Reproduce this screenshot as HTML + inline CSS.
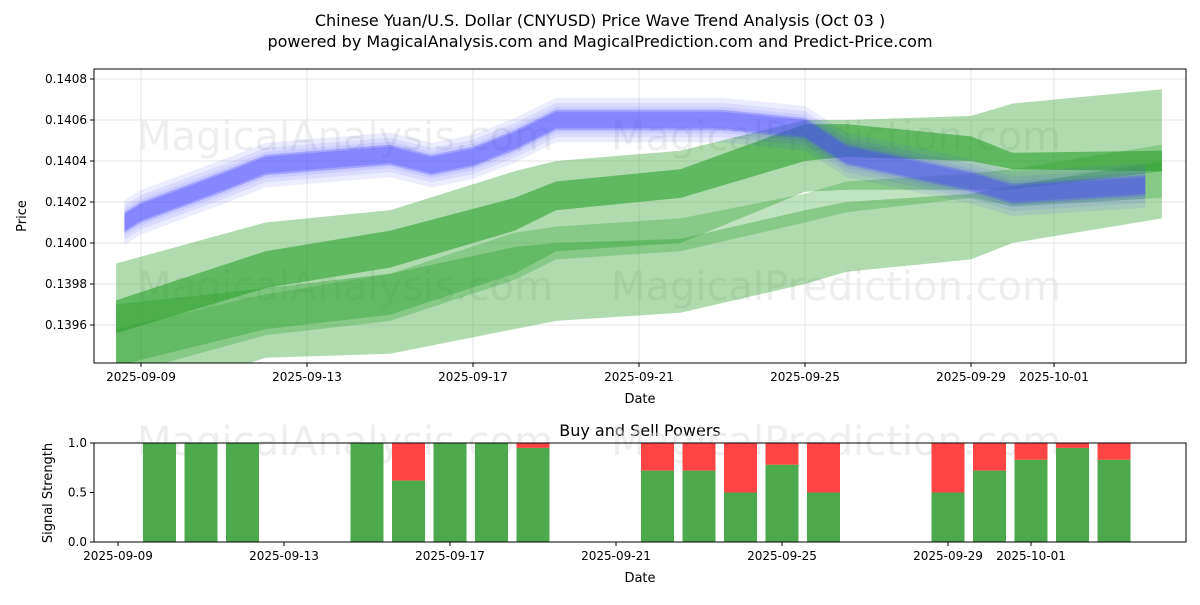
<!DOCTYPE html>
<html><head><meta charset="utf-8"><style>
body{margin:0;background:#fff;font-family:"Liberation Sans","DejaVu Sans",sans-serif}
svg text{font-family:"DejaVu Sans","Liberation Sans",sans-serif}
</style></head><body>
<svg id="c" width="1200" height="600" xmlns="http://www.w3.org/2000/svg">
<text x="600" y="26" text-anchor="middle" font-size="16">Chinese Yuan/U.S. Dollar (CNYUSD) Price Wave Trend Analysis (Oct 03 )</text>
<text x="600" y="47" text-anchor="middle" font-size="16">powered by MagicalAnalysis.com and MagicalPrediction.com and Predict-Price.com</text>
<g id="topg"></g><g id="botg"></g>
</svg>
<script>
// ---- data ----
const dayLabels=["2025-09-09","2025-09-13","2025-09-17","2025-09-21","2025-09-25","2025-09-29","2025-10-01"];
const dayIdx=[0,4,8,12,16,20,22];
const priceTicks=[0.1396,0.1398,0.1400,0.1402,0.1404,0.1406,0.1408];
const blueDays=[-0.4,0,2,3,6,7,8,9,10,13,14,16,17,20,21,24.2];
const blueMid=[0.14010,0.14015,0.14030,0.14038,0.14043,0.14038,0.14042,0.14050,0.14060,0.14060,0.14060,0.14056,0.14043,0.14030,0.14024,0.14028];
const greenDays=[-0.6,3,6,9,10,13,16,17,20,21,24.6];
const g1Lo=[0.13956,0.13978,0.13988,0.14006,0.14016,0.14022,0.14040,0.14042,0.14040,0.14036,0.14035];
const g1Hi=[0.13972,0.13996,0.14006,0.14022,0.14030,0.14036,0.14058,0.14058,0.14052,0.14044,0.14045];
const g2Lo=[0.13940,0.13958,0.13965,0.13985,0.13996,0.14000,0.14025,0.14026,0.14026,0.14026,0.14035];
const g2Hi=[0.13990,0.14010,0.14016,0.14035,0.14040,0.14045,0.14060,0.14060,0.14062,0.14068,0.14075];
const g3Lo=[0.13920,0.13944,0.13946,0.13958,0.13962,0.13966,0.13980,0.13986,0.13992,0.14000,0.14012];
const g3Hi=[0.13970,0.13978,0.13985,0.13998,0.14000,0.14002,0.14016,0.14020,0.14024,0.14028,0.14040];
const g4Lo=[0.13935,0.13955,0.13962,0.13982,0.13992,0.13996,0.14010,0.14015,0.14022,0.14018,0.14022];
const g4Hi=[0.13958,0.13975,0.13985,0.14005,0.14008,0.14012,0.14024,0.14030,0.14034,0.14036,0.14048];
const barDays=[1,2,3,6,7,8,9,10,13,14,15,16,17,20,21,22,23,24];
const buyVals=[1,1,1,1,0.62,1,1,0.95,0.72,0.72,0.5,0.78,0.5,0.5,0.72,0.83,0.95,0.83];
const sigTicks=[0,0.5,1.0];
// ---- scales ----
const NS="http://www.w3.org/2000/svg";
const T={l:94,r:1186,t:69,b:363},B={l:94,r:1186,t:443,b:542};
const xT=d=>141+d*41.5, xB=d=>118+d*41.5;
const yT=v=>325-(v-0.1396)/0.0002*41;
const yB=v=>542-v*99;
function el(p,tag,a){const e=document.createElementNS(NS,tag);for(const k in a)e.setAttribute(k,a[k]);p.appendChild(e);return e;}
const topG=document.getElementById('topg'),botG=document.getElementById('botg');
const cp=el(topG,'clipPath',{id:'cpt'});el(cp,'rect',{x:T.l,y:T.t,width:T.r-T.l,height:T.b-T.t});
dayIdx.forEach(d=>{const g=el(topG,'line',{x1:xT(d),x2:xT(d),y1:T.t,y2:T.b,stroke:'#e6e6e6'});});
priceTicks.forEach(v=>{const g=el(topG,'line',{x1:T.l,x2:T.r,y1:yT(v),y2:yT(v),stroke:'#e6e6e6'});});
const wm=[[345,150,'MagicalAnalysis.com'],[836,150,'MagicalPrediction.com'],[345,300,'MagicalAnalysis.com'],[836,300,'MagicalPrediction.com']];
wm.forEach(w=>{const t=el(topG,'text',{x:w[0],y:w[1],'font-size':40,fill:'#ddd','fill-opacity':0.5,'text-anchor':'middle'});t.textContent=w[2];});
const pg=el(topG,'g',{'clip-path':'url(#cpt)'});
function band(days,lo,hi,fill,op,name,dy){let pts=[];days.forEach((d,i)=>pts.push(xT(d)+','+(yT(hi[i])+dy)));for(let i=days.length-1;i>=0;i--)pts.push(xT(days[i])+','+(yT(lo[i])-dy));const p=el(pg,'polygon',{points:pts.join(' '),fill:fill,'fill-opacity':op});}
band(greenDays,g3Lo,g3Hi,'#2ca02c',0.38,'green-band-low',0);
band(greenDays,g2Lo,g2Hi,'#2ca02c',0.38,'green-band-wide',0);
band(greenDays,g4Lo,g4Hi,'#2ca02c',0.3,'green-band-mid',0);
band(greenDays,g1Lo,g1Hi,'#2ca02c',0.6,'green-band-main',0);
const bLo=blueMid.map(v=>v-0.00005), bHi=blueMid.map(v=>v+0.00005);
[-12,-7,-3,0,2].forEach((dy,k)=>band(blueDays,bLo,bHi,'#4444ff',k>=3?0.3:0.1,'blue-band',dy));
el(topG,'rect',{x:T.l,y:T.t,width:T.r-T.l,height:T.b-T.t,fill:'none',stroke:'#000'});
dayIdx.forEach((d,i)=>{el(topG,'line',{x1:xT(d),x2:xT(d),y1:T.b,y2:T.b+4,stroke:'#000'});const t=el(topG,'text',{x:xT(d),y:T.b+18,'font-size':12,'text-anchor':'middle'});t.textContent=dayLabels[i];});
priceTicks.forEach(v=>{el(topG,'line',{x1:T.l-4,x2:T.l,y1:yT(v),y2:yT(v),stroke:'#000'});const t=el(topG,'text',{x:T.l-7,y:yT(v)+4,'font-size':12,'text-anchor':'end'});t.textContent=v.toFixed(4);});
let t=el(topG,'text',{x:640,y:403,'font-size':13,'text-anchor':'middle'});t.textContent='Date';
t=el(topG,'text',{x:26,y:216,'font-size':13,'text-anchor':'middle',transform:'rotate(-90 26 216)'});t.textContent='Price';
t=el(botG,'text',{x:640,y:436,'font-size':16,'text-anchor':'middle'});t.textContent='Buy and Sell Powers';
[[345,455,'MagicalAnalysis.com'],[836,455,'MagicalPrediction.com']].forEach(w=>{const q=el(botG,'text',{x:w[0],y:w[1],'font-size':40,fill:'#ddd','fill-opacity':0.5,'text-anchor':'middle'});q.textContent=w[2];});
barDays.forEach((d,i)=>{const x=xB(d)-16.5;const v=buyVals[i];
const r=el(botG,'rect',{x:x,y:yB(1),width:33,height:yB(v)-yB(1),fill:'#ff4444'});
const g=el(botG,'rect',{x:x,y:yB(v),width:33,height:yB(0)-yB(v),fill:'#4caa4c'});});
el(botG,'rect',{x:B.l,y:B.t,width:B.r-B.l,height:B.b-B.t,fill:'none',stroke:'#000'});
dayIdx.forEach((d,i)=>{el(botG,'line',{x1:xB(d),x2:xB(d),y1:B.b,y2:B.b+4,stroke:'#000'});const q=el(botG,'text',{x:xB(d),y:B.b+18,'font-size':12,'text-anchor':'middle'});q.textContent=dayLabels[i];});
sigTicks.forEach(v=>{el(botG,'line',{x1:B.l-4,x2:B.l,y1:yB(v),y2:yB(v),stroke:'#000'});const q=el(botG,'text',{x:B.l-7,y:yB(v)+4,'font-size':12,'text-anchor':'end'});q.textContent=v.toFixed(1);});
t=el(botG,'text',{x:640,y:582,'font-size':13,'text-anchor':'middle'});t.textContent='Date';
t=el(botG,'text',{x:52,y:493,'font-size':13,'text-anchor':'middle',transform:'rotate(-90 52 493)'});t.textContent='Signal Strength';
</script>
</body></html>
